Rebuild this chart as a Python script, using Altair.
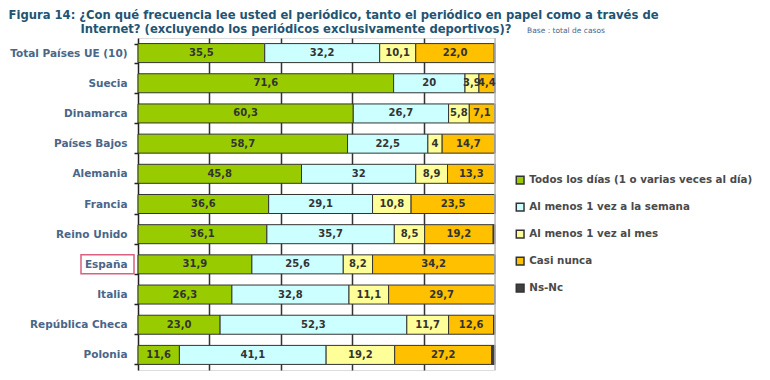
import altair as alt
import pandas as pd

countries = ["Total Países UE (10)", "Suecia", "Dinamarca", "Países Bajos", "Alemania",
             "Francia", "Reino Unido", "España", "Italia", "República Checa", "Polonia"]
categories = ["Todos los días (1 o varias veces al día)", "Al menos 1 vez a la semana",
              "Al menos 1 vez al mes", "Casi nunca", "Ns-Nc"]
colors = ["#99CC00", "#CCFFFF", "#FFFF99", "#FFC000", "#404040"]

todos = ["35,5", "71,6", "60,3", "58,7", "45,8", "36,6", "36,1", "31,9", "26,3", "23,0", "11,6"]
semana = ["32,2", "20", "26,7", "22,5", "32", "29,1", "35,7", "25,6", "32,8", "52,3", "41,1"]
mes = ["10,1", "3,9", "5,8", "4", "8,9", "10,8", "8,5", "8,2", "11,1", "11,7", "19,2"]
nunca = ["22,0", "4,4", "7,1", "14,7", "13,3", "23,5", "19,2", "34,2", "29,7", "12,6", "27,2"]
nsnc = ["0,2", "0,1", "0,1", "0,1", "0", "0", "0,5", "0,1", "0,1", "0,4", "0,9"]

series = [todos, semana, mes, nunca, nsnc]
rows = []
for ci, (cat, vals) in enumerate(zip(categories, series)):
    for country, s in zip(countries, vals):
        rows.append({"country": country, "category": cat, "order": ci,
                     "value": float(s.replace(",", ".")),
                     "label": "" if cat == "Ns-Nc" else s})
df = pd.DataFrame(rows)

FONT = "DejaVu Sans"
W, H = 357, 332

base = alt.Chart(df).transform_stack(
    stack="value", groupby=["country"], as_=["x0", "x1"],
    sort=[alt.SortField("order", order="ascending")]
).transform_calculate(mid="(datum.x0 + datum.x1) / 2")

yenc = alt.Y("country:N", sort=countries,
             scale=alt.Scale(paddingInner=0.37, paddingOuter=0.185),
             axis=alt.Axis(title=None, labelFont=FONT, labelFontWeight="bold",
                           labelFontSize=10.5, labelColor="#4A6688", labelPadding=7,
                           tickBand="extent", tickSize=4, tickColor="#222",
                           domainColor="#222", domainWidth=1.5, tickWidth=1.5))

bars = base.mark_bar(stroke="#333333", strokeWidth=1).encode(
    x=alt.X("x0:Q", scale=alt.Scale(domain=[0, 100], nice=False),
            axis=alt.Axis(values=[20, 40, 60, 80], grid=True, gridColor="#333333",
                          gridWidth=1.5, labels=False, ticks=False, domain=False,
                          title=None)),
    x2="x1:Q",
    y=yenc,
    color=alt.Color("category:N", sort=categories,
                    scale=alt.Scale(domain=categories, range=colors),
                    legend=alt.Legend(title=None, orient="none", legendX=377, legendY=137,
                                      symbolType="square", symbolSize=60,
                                      symbolStrokeColor="#333333", symbolStrokeWidth=1.5,
                                      labelFont=FONT, labelFontSize=10.3, labelFontWeight="bold",
                                      labelColor="#4A4A4A",
                                      labelOffset=4, rowPadding=12, labelLimit=300)),
)

texts = base.transform_filter("datum.label != ''").mark_text(
    font=FONT, fontSize=10, fontWeight="bold", color="#333333"
).encode(x="mid:Q", y=alt.Y("country:N", sort=countries), text="label:N")

edge = alt.Chart(pd.DataFrame({"v": [100]})).mark_rule(color="#BBBBBB", strokeWidth=1.5).encode(
    x="v:Q")

spain = alt.Chart(pd.DataFrame({"country": ["España"]})).mark_rect(
    filled=False, stroke="#D9607F", strokeWidth=1.5).encode(
    x=alt.value(-57), x2=alt.value(-4), y=alt.Y("country:N", sort=countries))

title_df = pd.DataFrame({
    "t": ["Figura 14: ¿Con qué frecuencia lee usted el periódico, tanto el periódico en papel como a través de",
          "Internet? (excluyendo los periódicos exclusivamente deportivos)?"],
    "px": [-129.5, -57.5], "py": [-28, -14]})
title_lines = alt.Chart(title_df).mark_text(
    font=FONT, fontSize=11.6, fontWeight="bold", color="#1F5473", align="left", baseline="top"
).encode(x=alt.X("px:Q", scale=None), y=alt.Y("py:Q", scale=None), text="t:N")

base_note = alt.Chart(pd.DataFrame({"t": ["Base : total de casos"]})).mark_text(
    font=FONT, fontSize=7.5, color="#4A6688", align="left", baseline="alphabetic"
).encode(x=alt.value(389), y=alt.value(-5), text="t:N")

chart = alt.layer(bars, edge, texts, spain, title_lines, base_note).properties(
    width=W, height=H
).configure_view(stroke=None).configure(padding={"top": 2, "left": 0, "right": 0, "bottom": 0})

chart.save("out.html", embed_options={"renderer": "svg", "actions": False})
